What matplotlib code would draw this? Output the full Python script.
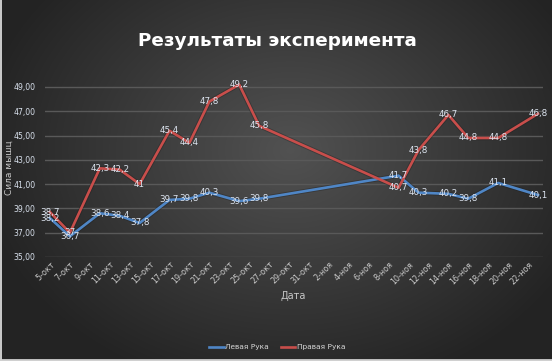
import numpy as np
import pandas as pd
import matplotlib
matplotlib.use("Agg")
import matplotlib.pyplot as plt
import matplotlib.dates as mdates
from matplotlib.ticker import FuncFormatter, FixedLocator

dates = ["2015-10-05", "2015-10-07", "2015-10-10", "2015-10-12", "2015-10-14",
         "2015-10-17", "2015-10-19", "2015-10-21", "2015-10-24", "2015-10-26",
         "2015-11-09", "2015-11-11", "2015-11-14", "2015-11-16", "2015-11-19",
         "2015-11-23"]
left_hand = [38.2, 36.7, 38.6, 38.4, 37.8, 39.7, 39.8, 40.3, 39.6, 39.8,
             41.7, 40.3, 40.2, 39.8, 41.1, 40.1]
right_hand = [38.7, 37.0, 42.3, 42.2, 41.0, 45.4, 44.4, 47.8, 49.2, 45.8,
              40.7, 43.8, 46.7, 44.8, 44.8, 46.8]
left_labels = ["38,2", "36,7", "38,6", "38,4", "37,8", "39,7", "39,8", "40,3", "39,6", "39,8",
               "41,7", "40,3", "40,2", "39,8", "41,1", "40,1"]
right_labels = ["38,7", "37", "42,3", "42,2", "41", "45,4", "44,4", "47,8", "49,2", "45,8",
                "40,7", "43,8", "46,7", "44,8", "44,8", "46,8"]
series_names = ["Левая Рука", "Правая Рука"]
title = "Результаты эксперимента"
x_title = "Дата"
y_title = "Сила мышц"
y_ticks = [35, 37, 39, 41, 43, 45, 47, 49]
months_ru = {10: "окт", 11: "ноя"}

plt.rcParams['font.family'] = ['DejaVu Sans']

W, H = 552, 361
fig = plt.figure(figsize=(W / 100, H / 100), dpi=100)

# background radial gradient
bg = fig.add_axes([0, 0, 1, 1])
yy, xx = np.mgrid[0:H, 0:W]
cx, cy = 290, 150
r = np.sqrt(((xx - cx) / 330.0) ** 2 + ((yy - cy) / 260.0) ** 2)
val = np.clip(0.32 - 0.19 * r, 0.14, 0.33)
img = np.dstack([val, val, val])
bg.imshow(img, extent=[0, W, H, 0], aspect='auto')
bg.set_xlim(0, W); bg.set_ylim(H, 0)
bg.axis('off')
bg.plot([0.5, 0.5], [0, H], color='#e8e8e8', lw=1.2)
bg.plot([0, W], [H - 1.5, H - 1.5], color='#d0d0d0', lw=2)

d = pd.to_datetime(dates)
x = mdates.date2num(d)

left_px, right_px = 45, 543
top_px, bot_px = 79.7, 257
ax = fig.add_axes([left_px / W, 1 - bot_px / H, (right_px - left_px) / W, (bot_px - top_px) / H])
ax.patch.set_alpha(0)

start = mdates.date2num(pd.Timestamp("2015-10-05"))
end = mdates.date2num(pd.Timestamp("2015-11-23"))
ax.set_xlim(start - 0.5, end + 0.5)
ax.set_ylim(35, 49.6)

for s in ax.spines.values():
    s.set_visible(False)
ax.set_yticks(y_ticks)
ax.yaxis.set_major_formatter(FuncFormatter(lambda v, p: f"{v:.2f}".replace(".", ",")))
ax.grid(axis='y', color='#595959', lw=1)
ax.set_axisbelow(True)

tick_dates = pd.date_range("2015-10-05", "2015-11-22", freq="2D")
ax.xaxis.set_major_locator(FixedLocator(mdates.date2num(tick_dates)))
ax.xaxis.set_major_formatter(FuncFormatter(
    lambda v, p: f"{mdates.num2date(v).day}-{months_ru[mdates.num2date(v).month]}"))
ax.tick_params(axis='x', length=0, labelsize=5.8, labelcolor='#c8c8c8', pad=2)
ax.tick_params(axis='y', length=0, labelsize=5.6, labelcolor='#d8e0ec', pad=7)
for lbl in ax.get_xticklabels():
    lbl.set_rotation(45)
    lbl.set_ha('right')
    lbl.set_rotation_mode('anchor')

blue = '#4f86c6'
red = '#c84e4b'
for ys, col, nm in [(left_hand, blue, series_names[0]), (right_hand, red, series_names[1])]:
    ax.plot(x, ys, color='#1a1a1a', lw=3.2, alpha=0.35, solid_capstyle='round', zorder=2)
    ax.plot(x, ys, color=col, lw=1.9, label=nm, solid_joinstyle='round', zorder=3)

for xs, ys, labs in [(x, left_hand, left_labels), (x, right_hand, right_labels)]:
    for xi, yi, t in zip(xs, ys, labs):
        ax.text(xi, yi, t, ha='center', va='center', fontsize=6.3, color='#dde4ef', zorder=5)

fig.text(277 / W, 1 - 41 / H, title, ha='center', va='center', fontsize=13.2,
         fontweight='bold', color='white')
fig.text(293 / W, 1 - 296 / H, x_title, ha='center', va='center', fontsize=7, color='#c8c8c8')
fig.text(9 / W, 1 - 168 / H, y_title, ha='center', va='center', fontsize=6.5,
         color='#c8c8c8', rotation=90)

leg = fig.legend(loc='center', bbox_to_anchor=(277 / W, 1 - 347 / H), ncol=2, frameon=False,
                 fontsize=5.3, labelcolor='#d8d8d8', handlelength=2.0, columnspacing=1.6,
                 handletextpad=0.2)

fig.savefig("out.png", dpi=100)
